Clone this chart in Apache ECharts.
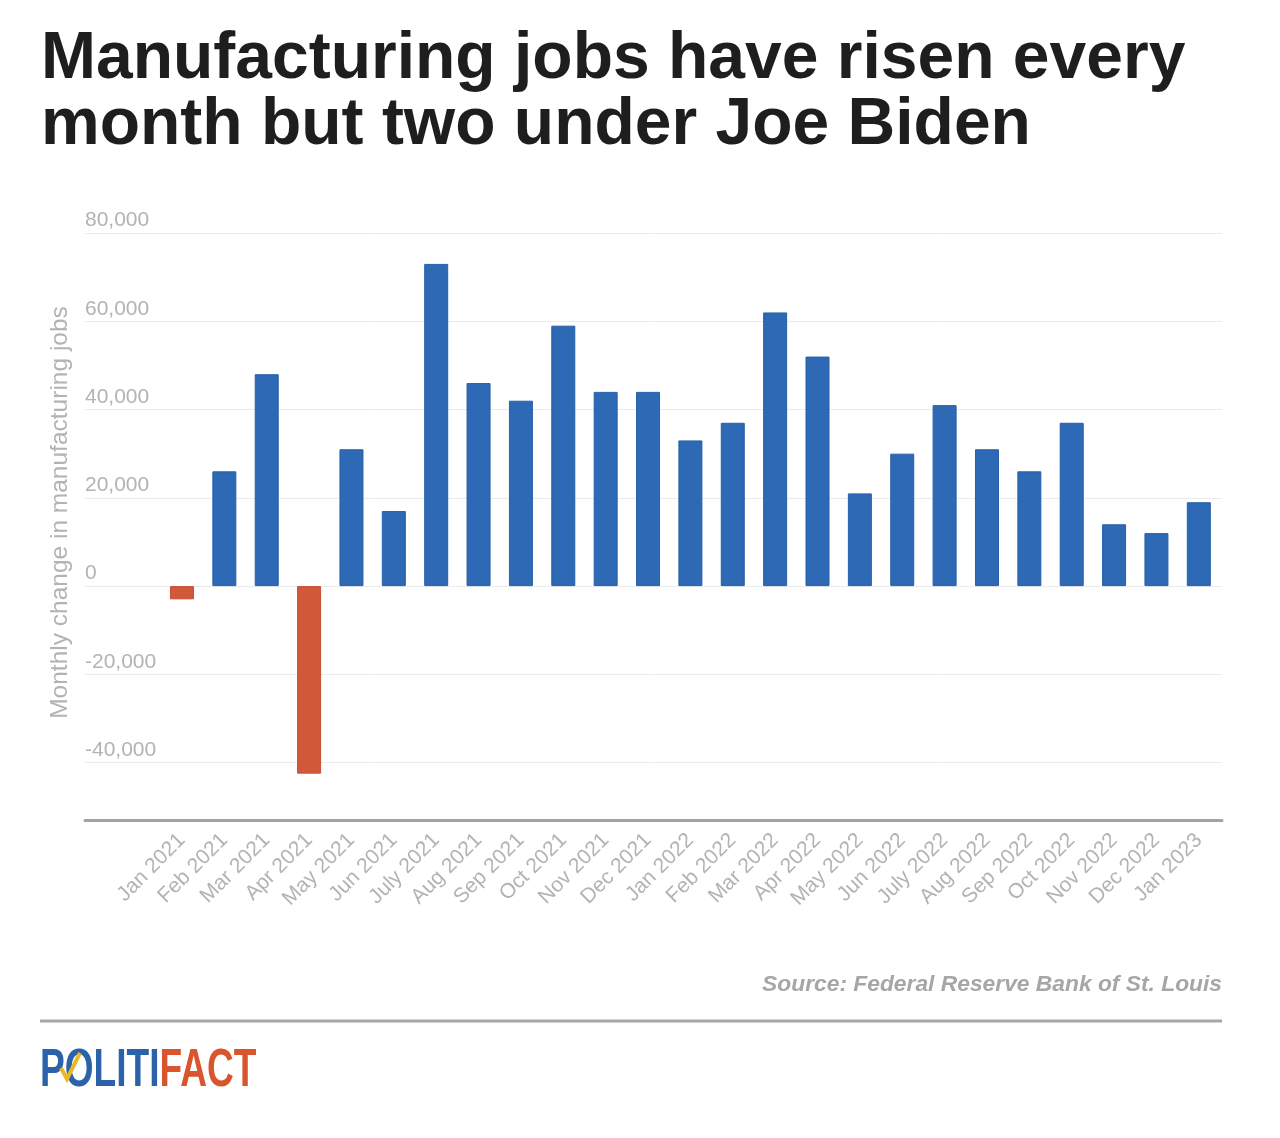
<!DOCTYPE html>
<html>
<head>
<meta charset="utf-8">
<script src="https://cdn.jsdelivr.net/npm/echarts@6/dist/echarts.min.js"></script>
<style>
html,body{margin:0;padding:0;background:#fff;}
#chart{width:1280px;height:1138px;}
</style>
</head>
<body>
<div id="chart"></div>
<script>
const categories = ["Jan 2021","Feb 2021","Mar 2021","Apr 2021","May 2021","Jun 2021","July 2021","Aug 2021","Sep 2021","Oct 2021","Nov 2021","Dec 2021","Jan 2022","Feb 2022","Mar 2022","Apr 2022","May 2022","Jun 2022","July 2022","Aug 2022","Sep 2022","Oct 2022","Nov 2022","Dec 2022","Jan 2023"];
const jobChanges = [-3000,26000,48000,-42500,31000,17000,73000,46000,42000,59000,44000,44000,33000,37000,62000,52000,21000,30000,41000,31000,26000,37000,14000,12000,19000];
const yTicks = [-40000,-20000,0,20000,40000,60000,80000];
const yMin = -53000, yMax = 80000;

const FONT = '"Liberation Sans", Arial, Helvetica, sans-serif';
const BLUE = '#2d69b4', BLUE_B = '#2760a8';
const ORANGE = '#d2583a', ORANGE_B = '#c64f32';
const LABEL = '#b3b3b3';

const barData = jobChanges.map(v => ({
  value: v,
  itemStyle: v < 0 ? {color: ORANGE, borderColor: ORANGE_B} : {color: BLUE, borderColor: BLUE_B}
}));

const chart = echarts.init(document.getElementById('chart'), null, {renderer:'canvas'});
chart.setOption({
  backgroundColor:'#ffffff',
  animation:false,
  title:{
    text:'Manufacturing jobs have risen every\nmonth but two under Joe Biden',
    left:36, top:22,
    textStyle:{fontFamily:FONT, fontWeight:'bold', fontSize:66, lineHeight:66, color:'#1e1e1e'}
  },
  grid:[
    {left:85, right:58, top:233, bottom:318},
    {left:160.8, right:60, top:233, bottom:318}
  ],
  xAxis:[
    {gridIndex:0, type:'value', min:0, max:1, position:'bottom',
     axisLine:{show:true, onZero:false, lineStyle:{color:'#a3a3a3', width:3}},
     axisTick:{show:false}, axisLabel:{show:false}, splitLine:{show:false}},
    {gridIndex:1, type:'category', data:categories, position:'bottom',
     axisLine:{show:false, onZero:false}, axisTick:{show:false},
     axisLabel:{interval:0, rotate:45, margin:17, color:LABEL, fontFamily:FONT, fontSize:21}}
  ],
  yAxis:[
    {gridIndex:0, type:'value', min:yMin, max:yMax, splitNumber:7,
     name:'Monthly change in manufacturing jobs', nameLocation:'middle', nameGap:12,
     nameTextStyle:{color:LABEL, fontFamily:FONT, fontSize:24.5, padding:[0,0,0,28]},
     axisLine:{show:false}, axisTick:{show:false},
     axisLabel:{inside:true, showMinLabel:false, margin:0, align:'left', verticalAlign:'bottom', padding:[0,0,2,0],
       color:LABEL, fontFamily:FONT, fontSize:21,
       formatter:v => yTicks.indexOf(v) >= 0 ? v.toLocaleString('en-US') : ''},
     splitLine:{show:true, lineStyle:{color:'#ebebeb', width:1}}},
    {gridIndex:1, type:'value', min:yMin, max:yMax, show:false, splitLine:{show:false}}
  ],
  series:[{
    type:'bar', xAxisIndex:1, yAxisIndex:1, data:barData, barWidth:24,
    itemStyle:{borderWidth:1}
  }],
  graphic:[
    {type:'text', style:{text:'Source: Federal Reserve Bank of St. Louis', x:1222, y:985,
      font:'italic bold 22.8px ' + FONT, fill:'#a6a6a6', align:'right', verticalAlign:'middle'}},
    {type:'line', shape:{x1:40, y1:1021, x2:1222, y2:1021}, style:{stroke:'#a8a8a8', lineWidth:3}},
    {type:'text', x:40, y:1071, scaleX:0.7,
      style:{text:'{b|POLITI}{o|FACT}', x:0, y:0, verticalAlign:'middle', align:'left',
        rich:{b:{fill:'#2b62a9', font:'bold 53px ' + FONT}, o:{fill:'#d9552d', font:'bold 53px ' + FONT}}}},
    {type:'polyline', shape:{points:[[61,1068],[67,1079],[80,1053]]},
      style:{stroke:'#e9b824', lineWidth:4, fill:null}}
  ]
});
</script>
</body>
</html>
